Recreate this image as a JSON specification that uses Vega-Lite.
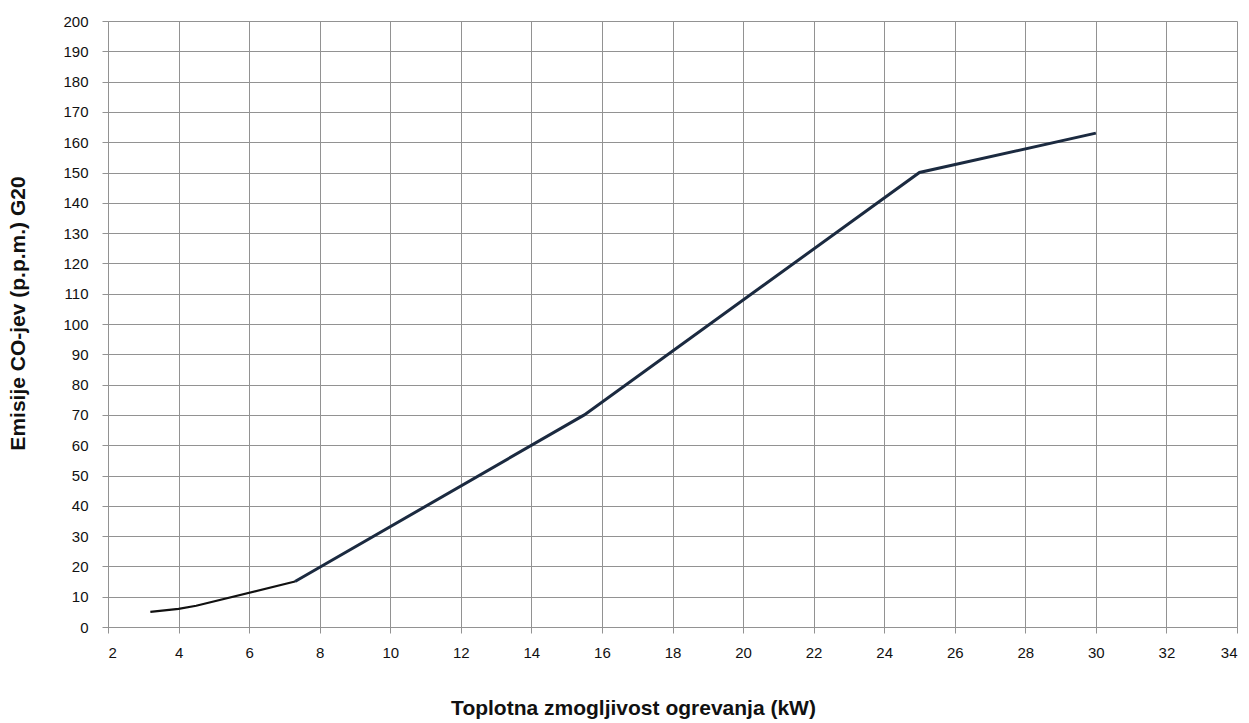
{
  "$schema": "https://vega.github.io/schema/vega-lite/v6.json",
  "width": 1129,
  "height": 606,
  "autosize": {"type": "none"},
  "padding": {"left": 108, "top": 21, "right": 12, "bottom": 96},
  "background": "white",
  "config": {
    "view": {"stroke": null},
    "font": "Liberation Sans",
    "axis": {
      "gridColor": "#929292",
      "gridWidth": 1,
      "gridOpacity": 1,
      "domainColor": "#929292",
      "tickColor": "#929292",
      "labelColor": "#111111",
      "labelFontSize": 15,
      "labelFont": "Liberation Sans",
      "titleFont": "Liberation Sans",
      "titleFontSize": 21,
      "titleFontWeight": "bold",
      "titleColor": "#111111"
    }
  },
  "data": {
    "values": [
      {"kw": 3.2, "co": 5, "series": "a", "ord": 1},
      {"kw": 4.0, "co": 6, "series": "a", "ord": 2},
      {"kw": 4.5, "co": 7, "series": "a", "ord": 3},
      {"kw": 7.3, "co": 15, "series": "a", "ord": 4},
      {"kw": 7.3, "co": 15, "series": "b", "ord": 1},
      {"kw": 15.5, "co": 70, "series": "b", "ord": 2},
      {"kw": 25, "co": 150, "series": "b", "ord": 3},
      {"kw": 30, "co": 163, "series": "b", "ord": 4}
    ]
  },
  "mark": {"type": "line", "strokeJoin": "miter", "strokeCap": "butt"},
  "encoding": {
    "x": {
      "field": "kw",
      "type": "quantitative",
      "scale": {"domain": [2, 34], "nice": false, "zero": false},
      "axis": {
        "values": [2,4,6,8,10,12,14,16,18,20,22,24,26,28,30,32,34],
        "title": "Toplotna zmogljivost ogrevanja (kW)",
        "titlePadding": 37,
        "titleX": 525,
        "labelPadding": 12,
        "tickSize": 6
      }
    },
    "y": {
      "field": "co",
      "type": "quantitative",
      "scale": {"domain": [0, 200], "nice": false},
      "axis": {
        "values": [0,10,20,30,40,50,60,70,80,90,100,110,120,130,140,150,160,170,180,190,200],
        "title": "Emisije CO-jev (p.p.m.) G20",
        "titlePadding": 34,
        "titleY": 292,
        "labelPadding": 14,
        "tickSize": 6
      }
    },
    "order": {"field": "ord"},
    "color": {
      "field": "series",
      "type": "nominal",
      "scale": {"domain": ["a", "b"], "range": ["#111111", "#1b2a40"]},
      "legend": null
    },
    "strokeWidth": {
      "field": "series",
      "type": "nominal",
      "scale": {"domain": ["a", "b"], "range": [2.2, 3]},
      "legend": null
    }
  }
}
